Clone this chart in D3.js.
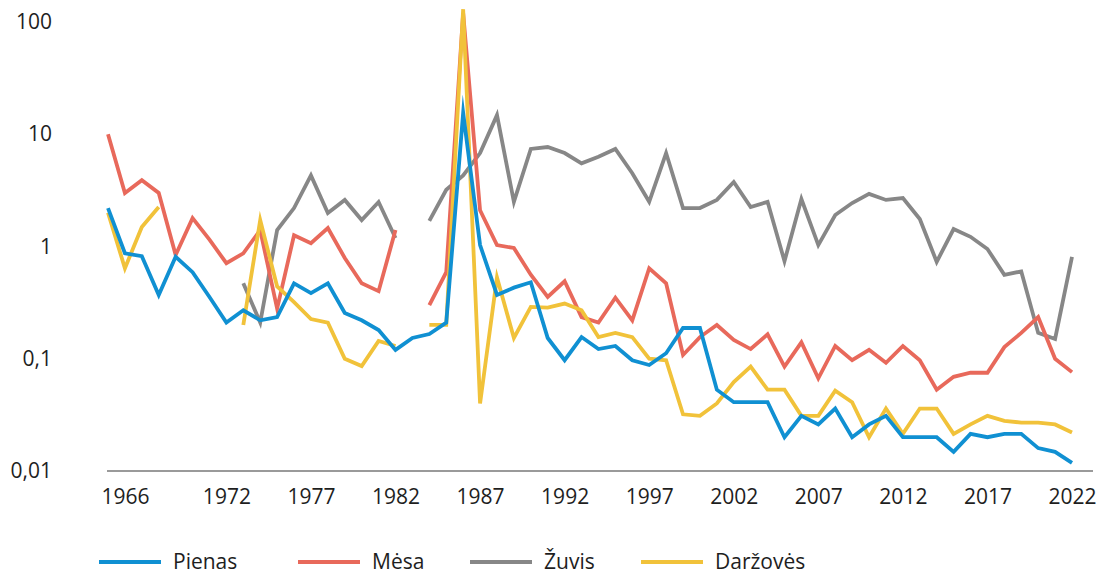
<!DOCTYPE html>
<html>
<head>
<meta charset="utf-8">
<script src="https://cdn.jsdelivr.net/npm/d3@7"></script>
<style>
  body { margin: 0; background: #fff; }
  text { font-family: "Open Sans", sans-serif; fill: #1e1e1e; }
</style>
</head>
<body>
<div id="chart"></div>
<script>
// years 1965..2022, null = no data
const years = d3.range(1965, 2023)

const pienas = [2.2, 0.87, 0.82, 0.37, 0.81, 0.59, 0.355, 0.21, 0.27, 0.22,
  0.235, 0.47, 0.385, 0.47, 0.256, 0.22, 0.18, 0.12, 0.153, 0.166,
  0.21, 15.5, 1.03, 0.37, 0.43, 0.48, 0.153, 0.097, 0.156, 0.122,
  0.13, 0.097, 0.088, 0.112, 0.188, 0.188, 0.053, 0.041, 0.041, 0.041,
  0.020, 0.031, 0.026, 0.036, 0.020, 0.026, 0.031, 0.020, 0.020, 0.020,
  0.0148, 0.0214, 0.020, 0.0214, 0.0214, 0.016, 0.0148, 0.0118]

const mesa = [10, 3.0, 3.9, 3.0, 0.84, 1.79, 1.15, 0.71, 0.87, 1.4,
  0.28, 1.26, 1.07, 1.46, 0.79, 0.47, 0.40, 1.4, null, 0.30,
  0.59, 120, 2.1, 1.03, 0.97, 0.56, 0.355, 0.49, 0.235, 0.21,
  0.35, 0.22, 0.64, 0.47, 0.108, 0.156, 0.20, 0.147, 0.122, 0.165,
  0.085, 0.14, 0.067, 0.13, 0.097, 0.12, 0.092, 0.13, 0.097, 0.053,
  0.069, 0.075, 0.075, 0.127, 0.17, 0.235, 0.10, 0.076]

const zuvis = [null, null, null, null, null, null, null, null, 0.47, 0.21,
  1.4, 2.2, 4.3, 1.99, 2.6, 1.72, 2.49, 1.19, null, 1.69,
  3.2, 4.3, 6.8, 14.8, 2.5, 7.4, 7.7, 6.8, 5.5, 6.3,
  7.4, 4.5, 2.5, 6.8, 2.2, 2.2, 2.6, 3.76, 2.25, 2.5,
  0.74, 2.65, 1.03, 1.91, 2.44, 2.94, 2.6, 2.7, 1.76, 0.73,
  1.43, 1.22, 0.95, 0.56, 0.60, 0.17, 0.15, 0.81]

const darzoves = [2.0, 0.64, 1.49, 2.25, null, null, null, null, 0.20, 1.72,
  0.44, 0.32, 0.226, 0.21, 0.10, 0.086, 0.144, 0.13, null, 0.20,
  0.20, 130, 0.040, 0.53, 0.153, 0.29, 0.285, 0.31, 0.27, 0.156,
  0.17, 0.156, 0.10, 0.097, 0.032, 0.031, 0.040, 0.062, 0.085, 0.053,
  0.053, 0.031, 0.031, 0.052, 0.041, 0.020, 0.036, 0.0214, 0.036, 0.036,
  0.0214, 0.026, 0.031, 0.028, 0.027, 0.027, 0.026, 0.022]

const seriesNames = ['Pienas', 'Mėsa', 'Žuvis', 'Daržovės']
const yTicks = [0.01, 0.1, 1, 10, 100]
const xTicks = [1966, 1972, 1977, 1982, 1987, 1992, 1997, 2002, 2007, 2012, 2017, 2022]

const colors = {
  'Pienas': '#1090d2',
  'Mėsa': '#e8695b',
  'Žuvis': '#878787',
  'Daržovės': '#f1c23a'
}
const values = { 'Pienas': pienas, 'Mėsa': mesa, 'Žuvis': zuvis, 'Daržovės': darzoves }

const width = 1107, height = 576

const x = d3.scaleLinear().domain([1965, 2022]).range([108, 1072])
const y = d3.scaleLog().domain([0.01, 100]).range([471, 22])

const svg = d3.select('#chart').append('svg')
  .attr('width', width)
  .attr('height', height)

// baseline
svg.append('line')
  .attr('x1', x(1965) - 1).attr('x2', 1093)
  .attr('y1', y(0.01)).attr('y2', y(0.01))
  .attr('stroke', '#9a9a9a')
  .attr('stroke-width', 2)

// y labels
const yAxis = svg.append('g')
  .attr('transform', 'translate(52,0)')
  .call(d3.axisLeft(y).tickValues(yTicks).tickSize(0).tickPadding(0)
    .tickFormat(d => String(d).replace('.', ',')))
yAxis.select('.domain').remove()
yAxis.selectAll('text').style('font-size', '21px').style('font-family', '"Open Sans", sans-serif').attr('fill', '#1e1e1e')

// x labels
const xAxis = svg.append('g')
  .attr('transform', `translate(0,${y(0.01)})`)
  .call(d3.axisBottom(x).tickValues(xTicks).tickSize(0).tickPadding(18)
    .tickFormat(d3.format('d')))
xAxis.select('.domain').remove()
xAxis.selectAll('text').style('font-size', '21px').style('font-family', '"Open Sans", sans-serif').attr('fill', '#1e1e1e')

const line = d3.line()
  .defined(d => d.v != null)
  .x(d => x(d.year))
  .y(d => y(d.v))

// draw order: blue ends up on top
const drawOrder = ['Žuvis', 'Mėsa', 'Daržovės', 'Pienas']
svg.append('g').selectAll('path')
  .data(drawOrder)
  .join('path')
  .attr('d', name => line(years.map((yr, i) => ({ year: yr, v: values[name][i] }))))
  .attr('fill', 'none')
  .attr('stroke', name => colors[name])
  .attr('stroke-width', 3.8)
  .attr('stroke-miterlimit', 10)

// legend
const legendX = [99, 298, 470, 641]
const legendY = 562
const legend = svg.append('g').selectAll('g')
  .data(seriesNames)
  .join('g')
  .attr('transform', (d, i) => `translate(${legendX[i]},${legendY})`)
legend.append('line')
  .attr('x1', 0).attr('x2', 62)
  .attr('stroke', d => colors[d])
  .attr('stroke-width', 3.8)
legend.append('text')
  .attr('x', 74)
  .attr('dy', '0.35em')
  .style('font-size', '21px')
  .text(d => d)
</script>
</body>
</html>
